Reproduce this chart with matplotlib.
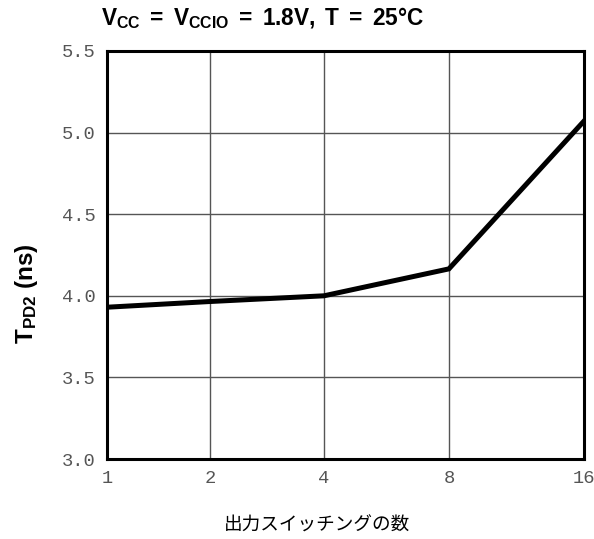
import matplotlib.pyplot as plt

plt.rcParams['mathtext.fontset'] = 'custom'
plt.rcParams['mathtext.rm'] = 'Liberation Sans'
plt.rcParams['mathtext.bf'] = 'Liberation Sans:bold'
plt.rcParams['mathtext.it'] = 'Liberation Sans:italic'

outputs = [1, 2, 4, 8, 16]
tpd2 = [3.93, 3.965, 4.0, 4.165, 5.07]
y_ticks = [3.0, 3.5, 4.0, 4.5, 5.0, 5.5]

# the x axis is not evenly spaced, so each output count gets its own spot
x_pos = [0.0, 0.216, 0.455, 0.717, 1.0]

fig = plt.figure(figsize=(5.94, 5.39), dpi=100)
ax = fig.add_axes([0.180, 0.1484, 0.803, 0.757])

ax.plot(x_pos, tpd2, color='black', lw=3.6, solid_joinstyle='miter')

ax.set_xlim(0, 1)
ax.set_ylim(3.0, 5.5)
ax.set_xticks(x_pos)
ax.set_xticklabels([str(n) for n in outputs])
ax.set_yticks(y_ticks)
ax.set_yticklabels(['%.1f' % v for v in y_ticks])
ax.grid(True, color='#555555', lw=1.0)
ax.set_axisbelow(True)
ax.tick_params(length=0, pad=8, labelsize=13.5, labelcolor='#555555')
for lab in ax.get_xticklabels() + ax.get_yticklabels():
    lab.set_family('Liberation Mono')
for sp in ax.spines.values():
    sp.set_linewidth(2.2)

fig.text(0.442, 0.966, r'$\mathbf{V_{CC}\ =\ V_{CCIO}\ =\ 1.8V,\ T\ =\ 25°C}$',
         ha='center', va='center', fontsize=16.3)
fig.text(0.045, 0.455, r'$\mathbf{T_{PD2}\ (ns)}$', rotation=90,
         ha='center', va='center', fontsize=17.5)
fig.text(0.534, 0.024, '出力スイッチングの数', ha='center', va='center',
         fontsize=13.4, family=['Noto Sans CJK JP', 'DejaVu Sans'])

fig.savefig('out.png')
